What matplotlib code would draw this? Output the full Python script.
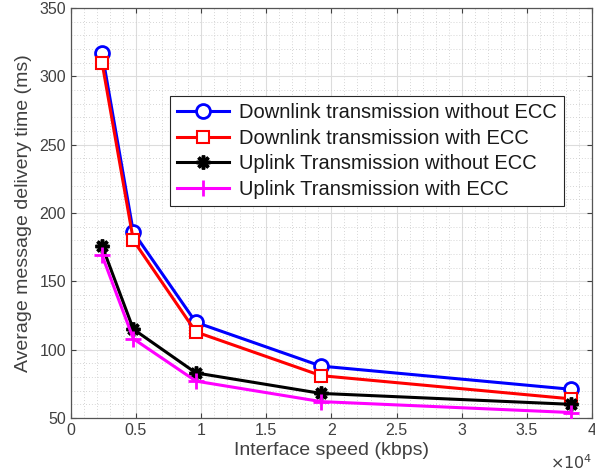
import matplotlib
matplotlib.use("Agg")
import matplotlib.pyplot as plt
from matplotlib.ticker import MultipleLocator

plt.rcParams['font.family'] = ['Liberation Sans', 'DejaVu Sans']

speeds = [2400, 4800, 9600, 19200, 38400]
down_no_ecc = [317, 186, 120, 88, 71]
down_ecc = [310, 180, 113, 81, 64]
up_no_ecc = [176, 115, 83, 68, 60]
up_ecc = [169, 108, 77, 62, 54]
labels = ["Downlink transmission without ECC", "Downlink transmission with ECC",
          "Uplink Transmission without ECC", "Uplink Transmission with ECC"]

fig = plt.figure(figsize=(5.95, 4.75), dpi=100)
ax = fig.add_axes([0.119, 0.12, 0.876, 0.863])

ax.plot(speeds, down_no_ecc, color='#0000ff', lw=2.2, marker='o', ms=10, mfc='white', mew=2, label=labels[0], zorder=5)
ax.plot(speeds, down_ecc, color='#ff0000', lw=2.2, marker='s', ms=8.5, mfc='white', mew=1.5, label=labels[1], zorder=5)
ax.plot(speeds, up_no_ecc, color='black', lw=2.2, marker=(8, 2, 0), ms=10, mew=2.5, label=labels[2], zorder=5)
ax.plot(speeds, up_ecc, color='#ff00ff', lw=2.2, marker='+', ms=12, mew=2, label=labels[3], zorder=5)

ax.set_xlim(0, 40000)
ax.set_ylim(50, 350)
ax.xaxis.set_minor_locator(MultipleLocator(1000))
ax.yaxis.set_major_locator(MultipleLocator(50))
ax.yaxis.set_minor_locator(MultipleLocator(10))
ax.set_xticks(range(0, 40001, 5000))
ax.set_xticklabels(['0', '0.5', '1', '1.5', '2', '2.5', '3', '3.5', '4'])
ax.text(1.0, -0.085, r'$\times10^4$', transform=ax.transAxes, ha='right', va='top', fontsize=11.5, color='#404040')

ax.grid(which='major', color='#dcdcdc', lw=0.8)
ax.grid(which='minor', color='#c8c8c8', lw=0.6, ls=(0, (1, 2.5)))
ax.tick_params(which='both', direction='in', top=True, right=True, labelsize=11.5, colors='#404040')
ax.tick_params(which='minor', length=0)
for s in ax.spines.values():
    s.set_color('#555555')
    s.set_linewidth(0.9)

ax.set_xlabel('Interface speed (kbps)', fontsize=14, color='#404040', labelpad=3)
ax.set_ylabel('Average message delivery time (ms)', fontsize=14, color='#404040', labelpad=5)

leg = ax.legend(loc='upper left', bbox_to_anchor=(0.19, 0.785), fontsize=14.5, frameon=True,
                fancybox=False, edgecolor='#262626', framealpha=1, handlelength=2.6,
                borderpad=0.35, labelspacing=0.32, handletextpad=0.5, borderaxespad=0)
leg.get_frame().set_linewidth(0.8)
for t in leg.get_texts():
    t.set_color('#1a1a1a')

fig.savefig('out.png', dpi=100)
